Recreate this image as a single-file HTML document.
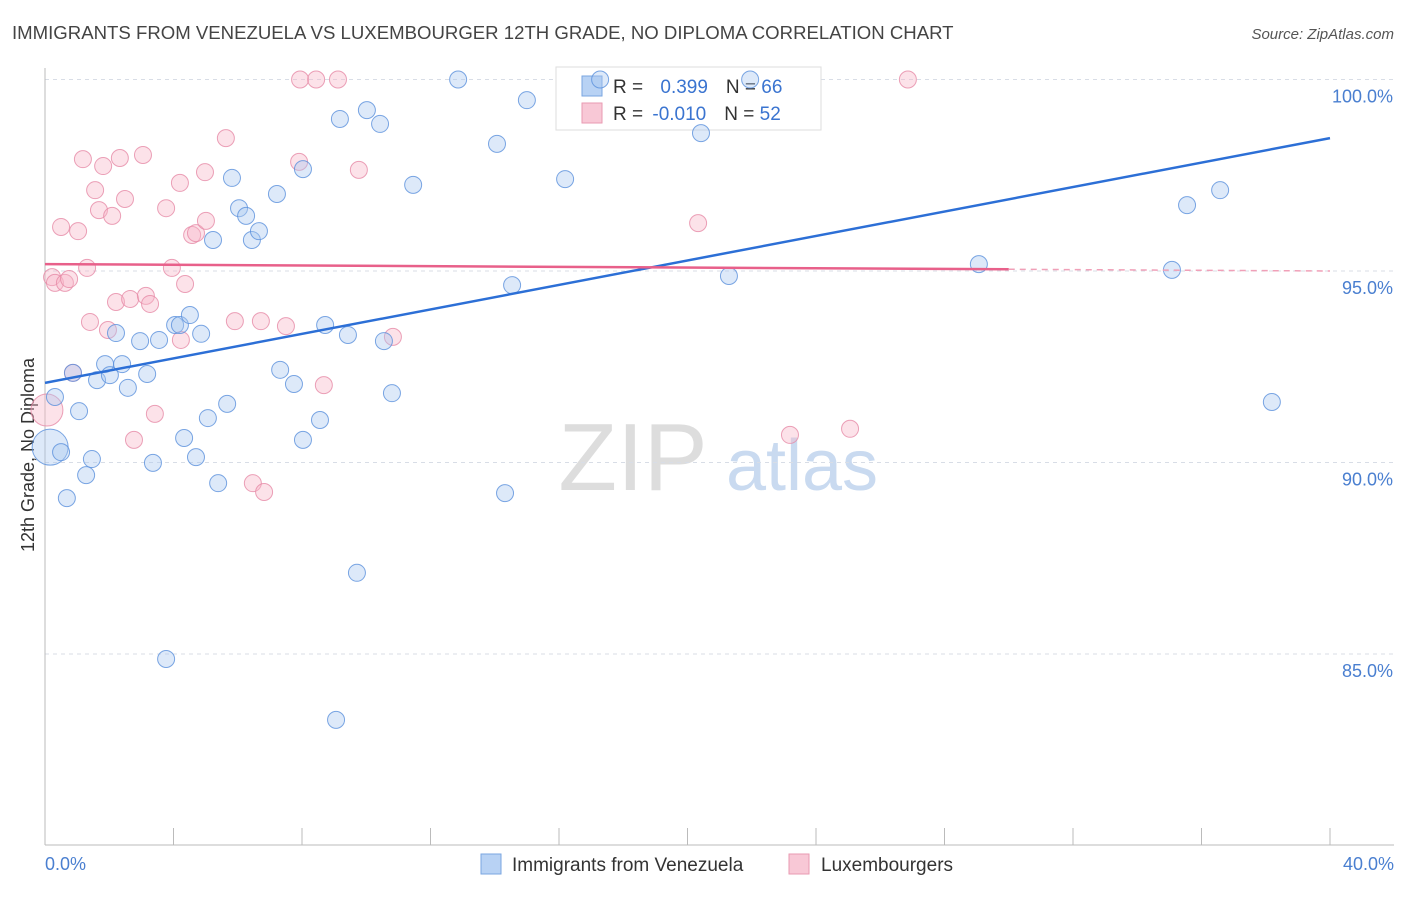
<!DOCTYPE html>
<html><head><meta charset="utf-8"><style>
body{margin:0;background:#fff;font-family:"Liberation Sans",sans-serif;}
svg text{font-family:"Liberation Sans",sans-serif;}
</style></head><body>
<svg id="c" width="1406" height="892" viewBox="0 0 1406 892">
<text x="12" y="39" font-size="18.6" fill="#444">IMMIGRANTS FROM VENEZUELA VS LUXEMBOURGER 12TH GRADE, NO DIPLOMA CORRELATION CHART</text>
<text x="1394" y="39" font-size="15" fill="#555" font-style="italic" text-anchor="end">Source: ZipAtlas.com</text>
<text transform="translate(34,455) rotate(-90)" font-size="18" fill="#333" text-anchor="middle">12th Grade, No Diploma</text>
<g>
<text x="633" y="490" font-size="96" font-family="Liberation Serif,serif" fill="#ddd" text-anchor="middle">ZIP</text>
<text x="802" y="490" font-size="72" fill="#c9daf0" text-anchor="middle">atlas</text>
</g>
<g id="grid"></g><g id="axes"></g>
<g>
<rect x="556" y="67" width="265" height="63" fill="#fff" stroke="#ddd"/>
<rect x="582" y="76" width="20" height="20" fill="#b8d2f4" stroke="#7aa6e0"/>
<rect x="582" y="103" width="20" height="20" fill="#f8c8d6" stroke="#e99ab2"/>
<text x="613" y="93" font-size="19" fill="#333">R = <tspan fill="#3a74d0" dx="12">0.399</tspan><tspan dx="18" fill="#333">N = </tspan><tspan fill="#3a74d0">66</tspan></text>
<text x="613" y="120" font-size="19" fill="#333">R = <tspan fill="#3a74d0" dx="4">-0.010</tspan><tspan dx="18" fill="#333">N = </tspan><tspan fill="#3a74d0">52</tspan></text>
</g>
<g id="marks"></g>
<g>
<rect x="481" y="854" width="20" height="20" fill="#b8d2f4" stroke="#7aa6e0"/>
<text x="512" y="871" font-size="19" fill="#333">Immigrants from Venezuela</text>
<rect x="789" y="854" width="20" height="20" fill="#f8c8d6" stroke="#e99ab2"/>
<text x="821" y="871" font-size="19" fill="#333">Luxembourgers</text>
</g>
</svg>
<script>
const blueX=[0.16,0.31,0.50,0.68,1.06,0.87,1.28,1.46,1.62,1.87,2.02,2.21,2.40,2.58,2.96,3.18,3.36,3.55,3.77,4.05,4.20,4.51,4.33,4.70,4.86,5.07,5.39,5.67,5.82,6.04,6.26,6.44,6.66,5.23,7.22,7.32,7.75,8.03,8.03,8.56,8.72,9.06,9.18,9.43,9.71,10.02,10.43,10.55,10.80,11.46,12.86,14.07,14.32,14.54,15.00,16.19,17.28,20.42,21.29,21.95,29.07,35.08,35.55,36.58,38.19];
const blueY=[90.40,91.71,90.27,89.07,91.34,92.34,89.67,90.09,92.15,92.57,92.28,93.38,92.57,91.95,93.17,92.31,89.99,93.20,84.87,93.59,93.59,93.85,90.64,90.14,93.36,91.16,89.46,91.53,97.43,96.64,96.44,95.81,96.04,95.81,97.01,92.42,92.05,97.66,90.59,91.11,93.59,83.28,98.97,93.33,87.12,99.20,98.84,93.17,91.81,97.25,100.0,98.32,89.20,94.63,99.46,97.40,100.0,98.60,94.87,100.0,95.18,95.03,96.72,97.11,91.58];
const pinkX=[0.06,0.22,0.31,0.50,0.62,0.75,0.87,1.03,1.18,1.31,1.40,1.56,1.68,1.81,1.96,2.09,2.21,2.33,2.49,2.65,2.77,3.05,3.14,3.27,3.42,3.77,3.95,4.20,4.23,4.36,4.58,4.70,4.98,5.01,5.63,5.91,6.47,6.72,6.82,7.50,7.91,7.94,8.44,8.68,9.12,9.77,10.83,20.33,23.19,25.06,26.86];
const pinkY=[91.37,94.84,94.69,96.15,94.69,94.79,92.34,96.04,97.92,95.08,93.67,97.11,96.59,97.74,93.46,96.44,94.19,97.95,96.88,94.27,90.59,98.03,94.35,94.14,91.27,96.64,95.08,97.30,93.20,94.66,95.94,95.99,97.58,96.31,98.47,93.69,89.46,93.69,89.23,93.56,97.85,100,100,92.02,100,97.64,93.28,96.25,90.72,90.88,100];
const blueTrend=[92.08,98.47];
const pinkTrend=[95.18,95.0];
const yTicks=[100,95,90,85];
const xTicks=[0,4,8,12,16,20,24,28,32,36,40];
const NS='http://www.w3.org/2000/svg';
const sx=v=>45+v*(1285/40);
const sy=v=>79.5+(100-v)*38.3;
function mk(p,t,a){const e=document.createElementNS(NS,t);for(const k in a)e.setAttribute(k,a[k]);p.appendChild(e);return e;}
const grid=document.getElementById('grid'),axes=document.getElementById('axes'),marks=document.getElementById('marks');
yTicks.forEach(t=>{
 const l=mk(grid,'line',{x1:45,x2:1394,y1:sy(t),y2:sy(t),stroke:'#d8dde6','stroke-dasharray':'4,4'});
 
 
 const tx=mk(axes,'text',{x:1393,y:sy(t)+23,'font-size':18,fill:'#4a7fd0','text-anchor':'end'});
 tx.textContent=t.toFixed(1)+'%';
 
 
});
const ya=mk(axes,'line',{x1:45,x2:45,y1:68,y2:845,stroke:'#bbb'});


const xa=mk(axes,'line',{x1:45,x2:1394,y1:845,y2:845,stroke:'#bbb'});


xTicks.forEach(t=>{
 const l=mk(axes,'line',{x1:sx(t),x2:sx(t),y1:828,y2:845,stroke:'#bbb'});
 
 
});
const x0=mk(axes,'text',{x:45,y:870,'font-size':18,fill:'#4a7fd0'});x0.textContent='0.0%';


const x1=mk(axes,'text',{x:1394,y:870,'font-size':18,fill:'#4a7fd0','text-anchor':'end'});x1.textContent='40.0%';


function pts(X,Y,fill,stroke,name,big){
 X.forEach((x,i)=>{
  const c=mk(marks,'circle',{cx:sx(x),cy:sy(Y[i]),r:i===0?big:8.5,fill:fill,'fill-opacity':0.4,stroke:stroke,'stroke-opacity':0.8,'stroke-width':1});
  
  
 });
}
pts(pinkX,pinkY,'#f7b6c9','#e68aa6','point-luxembourgers',16);
pts(blueX,blueY,'#a9c8f0','#5a90dc','point-venezuela',18);
const bl=mk(marks,'line',{x1:sx(0),y1:sy(blueTrend[0]),x2:sx(40),y2:sy(blueTrend[1]),stroke:'#2c6fd6','stroke-width':2.5});


const pm=pinkTrend[0]+(pinkTrend[1]-pinkTrend[0])*30/40;
const pl=mk(marks,'line',{x1:sx(0),y1:sy(pinkTrend[0]),x2:sx(30),y2:sy(pm),stroke:'#e8608a','stroke-width':2.5});


const pd=mk(marks,'line',{x1:sx(30),y1:sy(pm),x2:sx(40),y2:sy(pinkTrend[1]),stroke:'#f0a0b8','stroke-width':1.5,'stroke-dasharray':'6,5'});


</script>
</body></html>
